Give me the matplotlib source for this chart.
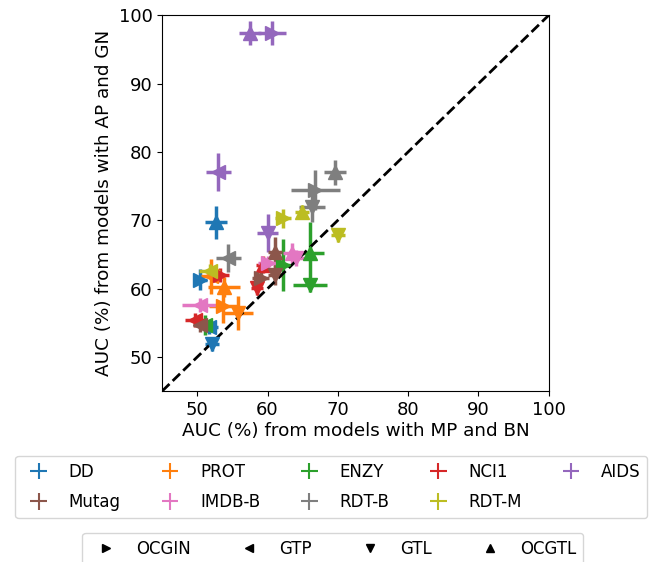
import matplotlib
matplotlib.use("Agg")
import matplotlib.pyplot as plt
from matplotlib.lines import Line2D

datasets = ["DD", "PROT", "ENZY", "NCI1", "AIDS", "Mutag", "IMDB-B", "RDT-B", "RDT-M"]
colors = ["#1f77b4", "#ff7f0e", "#2ca02c", "#d62728", "#9467bd",
          "#8c564b", "#e377c2", "#7f7f7f", "#bcbd22"]
methods = ["OCGIN", "GTP", "GTL", "OCGTL"]
method_markers = [">", "<", "v", "^"]

# x: AUC from MP+BN models, y: AUC from AP+GN models; per dataset, order = methods
x_mean = {
    "DD":     [50.4, 51.7, 52.1, 52.7],
    "PROT":   [53.7, 52.0, 55.8, 53.8],
    "ENZY":   [62.2, 51.1, 66.0, 66.0],
    "NCI1":   [53.2, 49.7, 58.5, 59.4],
    "AIDS":   [60.6, 53.0, 60.0, 57.5],
    "Mutag":  [59.0, 50.4, 61.1, 61.1],
    "IMDB-B": [60.1, 50.4, 64.1, 63.5],
    "RDT-B":  [66.8, 54.4, 66.3, 69.6],
    "RDT-M":  [62.2, 51.8, 70.0, 64.9],
}
y_mean = {
    "DD":     [61.3, 54.4, 51.9, 69.7],
    "PROT":   [57.5, 61.8, 56.4, 60.2],
    "ENZY":   [63.5, 54.7, 60.5, 65.2],
    "NCI1":   [62.0, 55.4, 60.1, 63.5],
    "AIDS":   [97.4, 77.1, 68.1, 97.4],
    "Mutag":  [61.5, 54.7, 62.0, 65.4],
    "IMDB-B": [63.7, 57.6, 64.5, 65.2],
    "RDT-B":  [74.4, 64.5, 71.9, 77.0],
    "RDT-M":  [70.3, 62.6, 67.8, 71.2],
}
x_err = {
    "DD":     [1.0, 1.3, 1.0, 1.6],
    "PROT":   [2.0, 1.5, 2.2, 2.3],
    "ENZY":   [1.0, 1.0, 2.4, 2.0],
    "NCI1":   [1.3, 1.5, 0.8, 1.0],
    "AIDS":   [2.0, 1.8, 1.5, 1.5],
    "Mutag":  [1.2, 1.0, 1.0, 1.0],
    "IMDB-B": [1.5, 2.5, 1.2, 1.3],
    "RDT-B":  [3.5, 1.8, 1.8, 1.6],
    "RDT-M":  [1.2, 1.5, 1.0, 1.0],
}
y_err = {
    "DD":     [1.5, 1.0, 1.0, 2.4],
    "PROT":   [2.5, 2.6, 2.5, 1.5],
    "ENZY":   [3.8, 1.5, 1.0, 4.6],
    "NCI1":   [1.0, 1.0, 1.0, 1.2],
    "AIDS":   [1.8, 2.8, 2.8, 1.8],
    "Mutag":  [1.0, 1.0, 1.5, 2.2],
    "IMDB-B": [1.0, 1.0, 1.2, 1.5],
    "RDT-B":  [2.9, 2.0, 2.2, 1.8],
    "RDT-M":  [1.4, 1.0, 1.0, 1.0],
}

legend_order = ["DD", "Mutag", "PROT", "IMDB-B", "ENZY", "RDT-B", "NCI1", "RDT-M", "AIDS"]

plt.rcParams["font.family"] = "DejaVu Sans"
fig = plt.figure(figsize=(6.51, 5.62), dpi=100)
ax = fig.add_axes([0.249, 0.304, 0.594, 0.669])

handles = {}
for ds, col in zip(datasets, colors):
    for i, (m, mk) in enumerate(zip(methods, method_markers)):
        ax.errorbar(x_mean[ds][i], y_mean[ds][i], xerr=x_err[ds][i], yerr=y_err[ds][i],
                    fmt=mk, color=col, markersize=10, elinewidth=2.5, capsize=0)
    handles[ds] = ax.errorbar([], [], xerr=[], yerr=[], fmt="none", color=col, elinewidth=1.5)

ax.plot([45, 100], [45, 100], "k--", lw=2)
ax.set_xlim(45, 100)
ax.set_ylim(45, 100)
ax.set_xticks([50, 60, 70, 80, 90, 100])
ax.set_yticks([50, 60, 70, 80, 90, 100])
ax.tick_params(labelsize=13)
ax.set_xlabel("AUC (%) from models with MP and BN", fontsize=13.2, labelpad=2)
ax.set_ylabel("AUC (%) from models with AP and GN", fontsize=13.2)

leg1 = fig.legend([handles[d] for d in legend_order], legend_order, ncol=5,
                  loc="upper center", bbox_to_anchor=(0.509, 0.2034), fontsize=12,
                  columnspacing=1.95, handlelength=2.0, labelspacing=0.75)
mhandles = [Line2D([], [], marker=mk, color="black", linestyle="none", markersize=5.5)
            for mk in method_markers]
leg2 = fig.legend(mhandles, methods, ncol=4, loc="upper center",
                  bbox_to_anchor=(0.511, 0.0664), fontsize=12, columnspacing=2.5,
                  handlelength=2.0)

fig.savefig("out.png", dpi=100)
